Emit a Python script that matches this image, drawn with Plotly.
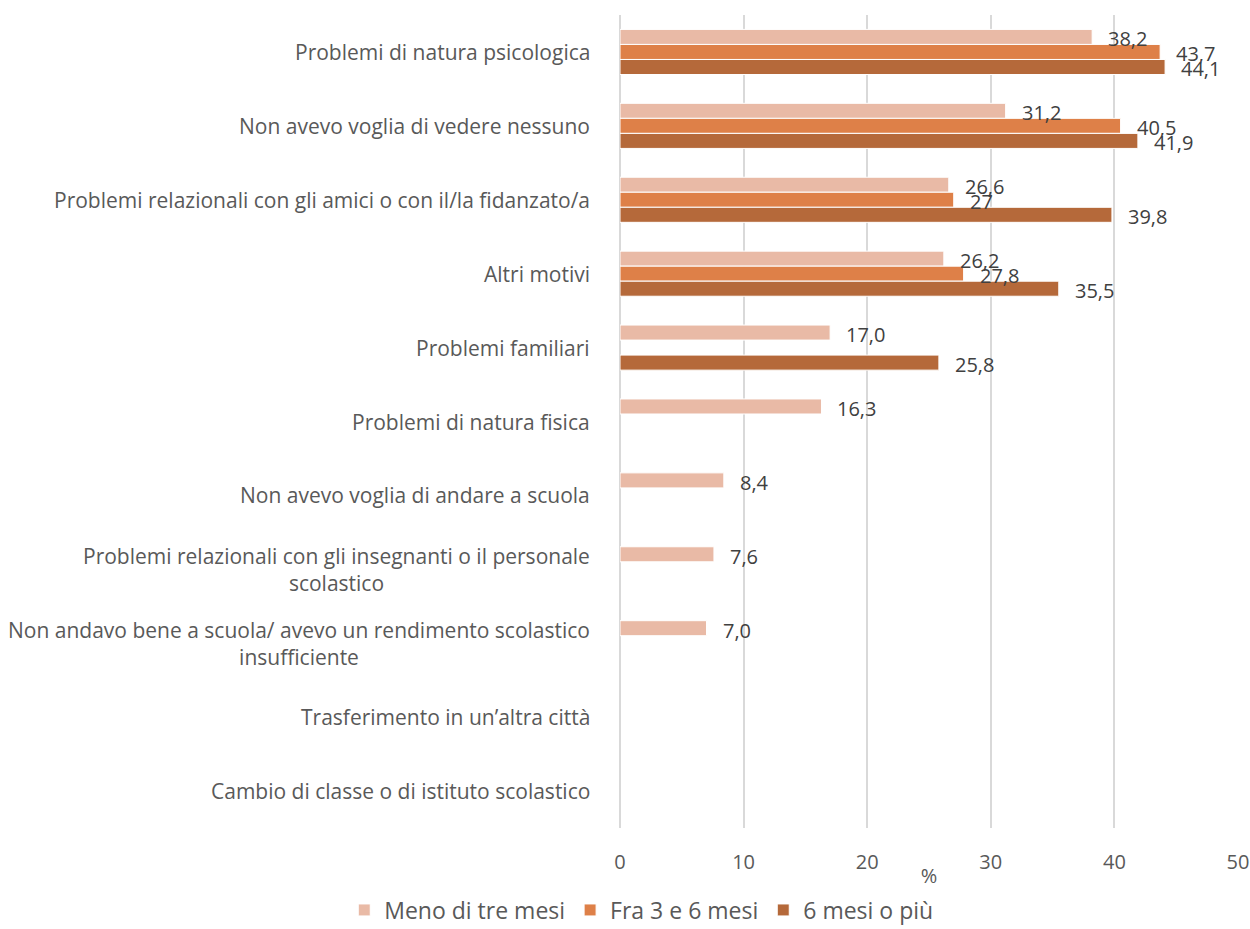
import plotly.graph_objects as go

categories = [
    "Problemi di natura psicologica",
    "Non avevo voglia di vedere nessuno",
    "Problemi relazionali con gli amici o con il/la fidanzato/a",
    "Altri motivi",
    "Problemi familiari",
    "Problemi di natura fisica",
    "Non avevo voglia di andare a scuola",
    "Problemi relazionali con gli insegnanti o il personale<br>scolastico",
    "Non andavo bene a scuola/ avevo un rendimento scolastico<br>insufficiente",
    "Trasferimento in un’altra città",
    "Cambio di classe o di istituto scolastico",
]
series_names = ["Meno di tre mesi", "Fra 3 e 6 mesi", "6 mesi o più"]
meno_tre = [38.2, 31.2, 26.6, 26.2, 17.0, 16.3, 8.4, 7.6, 7.0, None, None]
fra_3_6 = [43.7, 40.5, 27, 27.8, None, None, None, None, None, None, None]
sei_piu = [44.1, 41.9, 39.8, 35.5, 25.8, None, None, None, None, None, None]
labels_meno = ["38,2", "31,2", "26,6", "26,2", "17,0", "16,3", "8,4", "7,6", "7,0", "", ""]
labels_fra = ["43,7", "40,5", "27", "27,8", "", "", "", "", "", "", ""]
labels_sei = ["44,1", "41,9", "39,8", "35,5", "25,8", "", "", "", "", "", ""]
x_ticks = [0, 10, 20, 30, 40, 50]

colors = ["#E9BAA6", "#DE8048", "#B5693A"]
FONT = "Open Sans, sans-serif"
TXT = "#404040"
GREY = "#595959"

fig = go.Figure()
series = [meno_tre, fra_3_6, sei_piu]
labels = [labels_meno, labels_fra, labels_sei]
for name, vals, col in zip(series_names, series, colors):
    fig.add_trace(go.Bar(
        y=categories, x=vals, name=name, orientation="h",
        marker=dict(color=col, line=dict(color="white", width=1)),
    ))

# value labels (drawn above all bars, like the reference)
for k, (vals, labs) in enumerate(zip(series, labels)):
    for c, v, l in zip(categories, vals, labs):
        if v is None or not l:
            continue
        fig.add_annotation(
            x=v, xref="x", y=c, yref="y", text=l, showarrow=False,
            xanchor="left", yanchor="middle", xshift=14, yshift=15 - 15 * k - 2,
            font=dict(family=FONT, size=20, color=TXT),
        )

for c in categories:
    fig.add_annotation(
        x=0, xref="paper", y=c, yref="y", text=c, showarrow=False,
        xanchor="right", align="center", xshift=-28,
        font=dict(family=FONT, size=21, color=GREY),
    )

fig.update_layout(
    width=1250, height=929,
    paper_bgcolor="white", plot_bgcolor="white",
    margin=dict(l=620, r=12, t=15, b=101, autoexpand=False),
    barmode="group", bargap=0.39, bargroupgap=0,
    font=dict(family=FONT, size=20, color=GREY),
    showlegend=True,
    legend=dict(orientation="h", xref="container", yref="container",
                x=0.513, xanchor="center", y=1 - 910 / 929, yanchor="middle",
                font=dict(family=FONT, size=23, color=GREY),
                traceorder="normal", itemwidth=30),
    xaxis=dict(range=[0, 50], tickvals=x_ticks, showgrid=True,
               gridcolor="#D9D9D9", gridwidth=2, zeroline=True,
               zerolinecolor="#D9D9D9", zerolinewidth=2,
               tickfont=dict(family=FONT, size=20, color=GREY),
               ticks="", ticklabelstandoff=20,
               title=dict(text="%", standoff=4,
                          font=dict(family=FONT, size=20, color=GREY))),
    yaxis=dict(autorange="reversed", showticklabels=False, showgrid=False,
               ticks="", categoryorder="array", categoryarray=categories),
)

fig.write_html("out.html", config={"displayModeBar": False},
               post_script="document.body.style.margin='0';")
